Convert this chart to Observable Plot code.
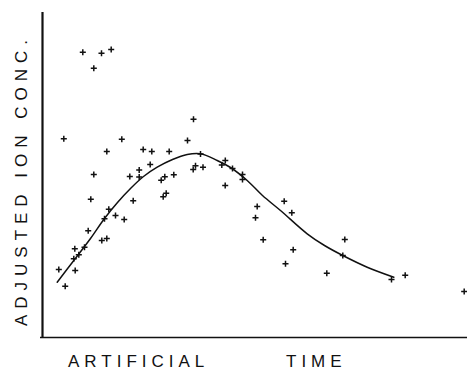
<!DOCTYPE html>
<html>
<head>
<meta charset="utf-8">
<script src="https://cdn.jsdelivr.net/npm/d3@7"></script>
<script src="https://cdn.jsdelivr.net/npm/@observablehq/plot@0.6"></script>
<style>
  html, body { margin: 0; padding: 0; background: #fff; }
  #chart svg { display: block; }
</style>
</head>
<body>
<div id="chart"></div>
<script>
// Observed points (artificial time, adjusted ion concentration), arbitrary units
const pointTime = [
  40.3, 59, 68.7, 51.3, 151, 21.3, 79.3, 145, 64.3, 100.7,
  109.3, 126.7, 107.7, 158, 153, 150.7, 160.5, 179.3, 182.8, 190,
  200, 200, 51.3, 87.3, 96.7, 96.7, 118.7, 122.3, 131.3, 182.7,
  48.3, 90.7, 120.7, 123.7, 66.3, 62, 73, 81.7, 45.7, 59.3,
  64.3, 32.3, 42, 36.3, 31.3, 32.7, 16.3, 22.7, 241.7, 214.7,
  249.3, 213, 220.7, 302.3, 250.7, 300.3, 243, 284.3, 362.7, 349,
  421.7
];
const pointConc = [
  285.3, 284.3, 288, 269.3, 218.3, 198.7, 198.3, 197, 186, 188,
  186, 186, 173, 183.5, 171.7, 168, 170.3, 172.5, 177, 169,
  163, 158, 163, 161, 167.5, 160.5, 157.3, 160.7, 162.7, 152,
  138.3, 136.7, 140.7, 144.3, 128.3, 118.7, 122, 118, 106.7, 97,
  99, 88.7, 90.3, 82.7, 78.7, 67, 68, 51.3, 136.3, 131,
  124.7, 119.7, 97.7, 98, 87.7, 82, 73.7, 64.3, 62.3, 58,
  46
];
// Fitted smooth curve, read along its path
const curveTime = [14.7, 31.3, 48, 62, 75, 88, 101, 114.7, 130, 144.7, 158, 174.7, 188, 204.7, 220, 238, 264.7, 282, 300.3, 324.7, 351.3];
const curveConc = [55.3, 77, 99, 119, 135, 149, 161, 170.3, 178, 183, 183.7, 177, 170, 157, 142, 127, 103.7, 92, 82, 70.3, 60.3];

const xLabel = ["ARTIFICIAL", "TIME"];
const yLabel = "ADJUSTED ION CONC.";

const points = pointTime.map((t, i) => ({t, c: pointConc[i]}));
const curve = curveTime.map((t, i) => ({t, c: curveConc[i]}));

const W = 467, H = 371;
const chart = Plot.plot({
  width: W,
  height: H,
  marginLeft: 42,
  marginRight: 0,
  marginTop: 12,
  marginBottom: 34,
  x: {domain: [0, 425], axis: null},
  y: {domain: [0, 325], axis: null},
  style: {background: "#fff"},
  marks: [
    Plot.ruleX([0], {stroke: "#111", strokeWidth: 2.2}),
    Plot.ruleY([0], {x1: -2, x2: 425, stroke: "#111", strokeWidth: 1.6}),
    Plot.line(curve, {x: "t", y: "c", curve: "catmull-rom", stroke: "#111", strokeWidth: 1.5}),
    Plot.dot(points, {x: "t", y: "c", symbol: "plus", r: 2.1, stroke: "#111", strokeWidth: 1.5})
  ]
});

const svg = d3.select(chart);
const font = "'Liberation Sans', Arial, Helvetica, sans-serif";
svg.append("text")
  .attr("transform", "translate(21,180) rotate(-90)")
  .attr("text-anchor", "middle")
  .attr("dominant-baseline", "central")
  .style("font-family", font)
  .style("font-size", "17px")
  .style("letter-spacing", "6px")
  .attr("fill", "#111")
  .text(yLabel);
svg.append("text")
  .attr("x", 68).attr("y", 367)
  .attr("text-anchor", "start")
  .style("font-family", font)
  .style("font-size", "17px")
  .style("letter-spacing", "5px")
  .attr("fill", "#111")
  .text(xLabel[0]);
svg.append("text")
  .attr("x", 286).attr("y", 367)
  .attr("text-anchor", "start")
  .style("font-family", font)
  .style("font-size", "17px")
  .style("letter-spacing", "5px")
  .attr("fill", "#111")
  .text(xLabel[1]);

document.getElementById("chart").appendChild(chart);
</script>
</body>
</html>
